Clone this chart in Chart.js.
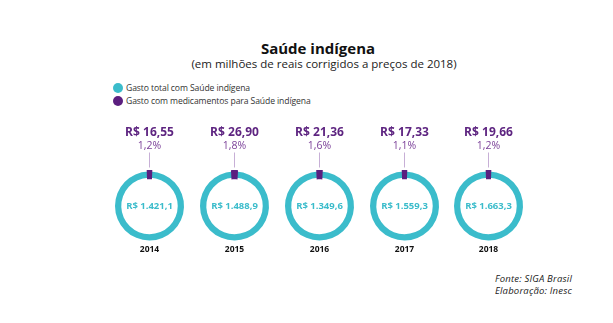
<!DOCTYPE html>
<html>
<head>
<meta charset="utf-8">
<script src="https://cdn.jsdelivr.net/npm/chart.js@4"></script>
<style>
  body { margin: 0; width: 613px; height: 323px; background: #fff; position: relative; overflow: hidden; font-family: "Open Sans", sans-serif; }
  .abs { position: absolute; }
  #title { left: 118px; width: 400px; top: 38px; text-align: center; font-size: 15px; font-weight: 700; color: #111; }
  #sub { left: 124px; width: 400px; top: 56px; text-align: center; font-size: 11.5px; color: #222; }
  .leg { left: 113px; font-size: 8.6px; color: #333; letter-spacing: -0.1px; }
  .leg span { display: inline-block; width: 10px; height: 10px; border-radius: 50%; vertical-align: middle; margin-right: 3px; position: relative; top: -1px; }
  #src { left: 468px; width: 104px; top: 273px; text-align: right; font-size: 9.5px; font-style: italic; color: #222; line-height: 11.5px; letter-spacing: 0.2px; }
  canvas { position: absolute; }
</style>
</head>
<body>
<div id="title" class="abs">Saúde indígena</div>
<div id="sub" class="abs">(em milhões de reais corrigidos a preços de 2018)</div>
<div class="abs leg" style="top:82px"><span style="background:#3bbccb"></span>Gasto total com Saúde indígena</div>
<div class="abs leg" style="top:95px"><span style="background:#5b1f7f"></span>Gasto com medicamentos para Saúde indígena</div>
<div id="src" class="abs">Fonte: SIGA Brasil<br>Elaboração: Inesc</div>
<script>
var years = ["2014", "2015", "2016", "2017", "2018"];
var total = [1421.1, 1488.9, 1349.6, 1559.3, 1663.3];
var medicamentos = [16.55, 26.90, 21.36, 17.33, 19.66];
var totalLabels = ["R$ 1.421,1", "R$ 1.488,9", "R$ 1.349,6", "R$ 1.559,3", "R$ 1.663,3"];
var medLabels = ["R$ 16,55", "R$ 26,90", "R$ 21,36", "R$ 17,33", "R$ 19,66"];
var pctLabels = ["1,2%", "1,8%", "1,6%", "1,1%", "1,2%"];

var centers = [149, 234, 319, 404, 488];
var teal = "#3bbccb";
var purple = "#5b1f7f";

var labelPlugin = {
    id: "labels",
    afterDraw: function(chart) {
        var i = chart.options.plugins.labels.index;
        var arc = chart.getDatasetMeta(0).data[0];
        var cx = arc.x, cy = arc.y, r = arc.outerRadius;
        var c = chart.ctx;
        c.save();
        c.textAlign = "center";
        c.textBaseline = "middle";
        // connector
        c.strokeStyle = "#c7afd6";
        c.lineWidth = 1;
        c.beginPath();
        c.moveTo(cx, cy - r - 19);
        c.lineTo(cx, cy - r - 4);
        c.stroke();
        c.fillStyle = "#5e2581";
        c.font = "700 12px 'Open Sans'";
        c.fillText(medLabels[i], cx, cy - r - 39);
        c.fillStyle = "#7a3f98";
        c.font = "400 10.5px 'Open Sans'";
        c.fillText(pctLabels[i], cx, cy - r - 25.5);
        c.fillStyle = teal;
        c.font = "700 9.5px 'Open Sans'";
        c.fillText(totalLabels[i], cx, cy);
        c.fillStyle = "#111";
        c.font = "700 8.5px 'Open Sans'";
        c.fillText(years[i], cx, cy + r + 9);
        c.restore();
    }
};

years.forEach(function(y, i) {
    var cv = document.createElement("canvas");
    cv.width = 85; cv.height = 150;
    cv.style.left = (centers[i] - 42.5) + "px";
    cv.style.top = "112px";
    document.body.appendChild(cv);
    var frac = medicamentos[i] / total[i];
    new Chart(cv.getContext("2d"), {
        type: "doughnut",
        data: {
            labels: ["Gasto total", "Medicamentos"],
            datasets: [{
                data: [total[i] - medicamentos[i], medicamentos[i]],
                backgroundColor: [teal, purple],
                borderColor: [teal, purple],
                borderWidth: [0, 3],
                borderJoinStyle: "miter",
                hoverOffset: 0
            }]
        },
        options: {
            responsive: false,
            animation: false,
            events: [],
            radius: 34.5,
            cutout: 27,
            rotation: frac * 180,
            layout: { padding: { top: 59, bottom: 21, left: 8, right: 8 } },
            plugins: {
                legend: { display: false },
                tooltip: { enabled: false },
                labels: { index: i }
            }
        },
        plugins: [labelPlugin]
    });
});
</script>
</body>
</html>
